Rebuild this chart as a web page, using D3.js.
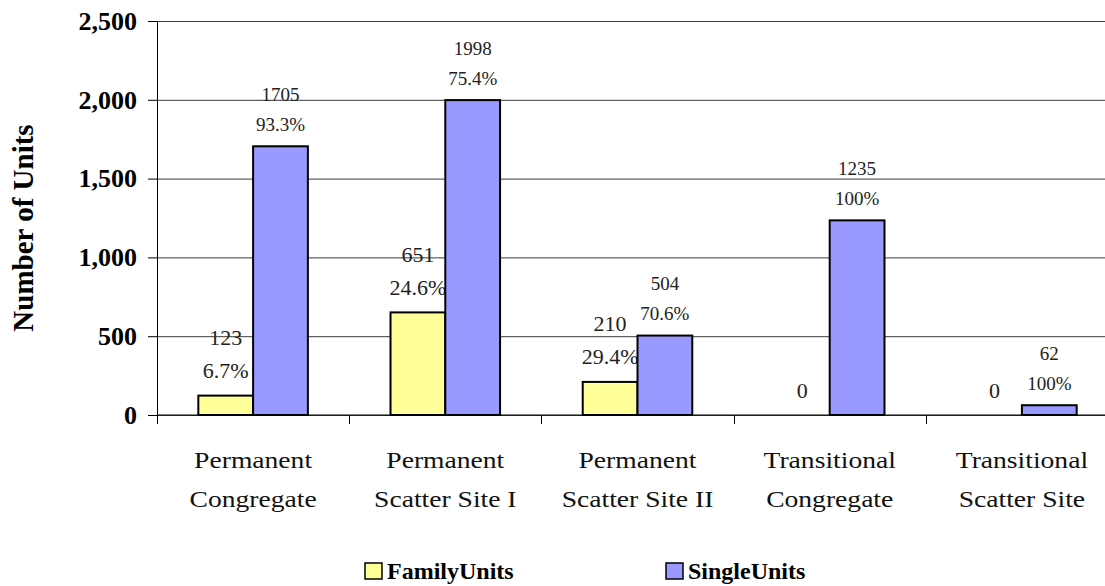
<!DOCTYPE html>
<html>
<head>
<meta charset="utf-8">
<script src="https://cdn.jsdelivr.net/npm/d3@7"></script>
<style>
  html, body { margin: 0; padding: 0; background: #fff; }
  svg { display: block; }
  svg text { font-family: "Liberation Serif", "Times New Roman", serif !important; }
</style>
</head>
<body>
<div id="chart"></div>
<script>
// values
const categories = [
  "Permanent Congregate",
  "Permanent Scatter Site I",
  "Permanent Scatter Site II",
  "Transitional Congregate",
  "Transitional Scatter Site"
];
const familyUnits = [123, 651, 210, 0, 0];
const singleUnits = [1705, 1998, 504, 1235, 62];
const seriesNames = ["FamilyUnits", "SingleUnits"];
const yTicks = [0, 500, 1000, 1500, 2000, 2500];

const width = 1105, height = 586;
const colors = ["#FFFF99", "#9999FF"];

const rows = categories.map((c, i) => {
  const f = familyUnits[i], s = singleUnits[i], tot = f + s;
  return { cat: c, values: [f, s], pct: [f / tot * 100, s / tot * 100] };
});

function pctText(p) {
  return p === 100 ? "100%" : p.toFixed(1) + "%";
}

const svg = d3.select("#chart").append("svg")
  .attr("width", width)
  .attr("height", height);

// plot runs a little past the right edge, like the original
const x = d3.scaleBand()
  .domain(categories)
  .range([157, 1118])
  .paddingInner(0.43)
  .paddingOuter(0.215);

const x1 = d3.scaleBand()
  .domain([0, 1])
  .range([0, x.bandwidth()]);

const y = d3.scaleLinear()
  .domain([0, 2500])
  .range([415, 21]);

// gridlines
svg.append("g")
  .attr("transform", "translate(157,0)")
  .call(d3.axisLeft(y).tickValues(yTicks).tickSize(-(width - 157)).tickFormat(""))
  .call(g => g.select(".domain").remove())
  .call(g => g.selectAll(".tick line").attr("stroke", "#3a3a3a").attr("stroke-width", 1));

// y axis
svg.append("g")
  .attr("transform", "translate(157,0)")
  .call(d3.axisLeft(y).tickValues(yTicks).tickSize(9).tickPadding(11).tickFormat(d3.format(",")))
  .attr("font-family", null)
  .attr("font-size", null)
  .call(g => g.select(".domain").attr("stroke", "#000"))
  .call(g => g.selectAll(".tick line").attr("stroke", "#000"))
  .call(g => g.selectAll(".tick text")
    .attr("font-weight", "bold")
    .attr("font-size", 26)
    .attr("fill", "#000"));

// x axis line + boundary ticks
const bounds = categories.map(c => x(c) - x.step() * x.paddingInner() / 2);
svg.append("line")
  .attr("x1", 157).attr("x2", width)
  .attr("y1", y(0)).attr("y2", y(0))
  .attr("stroke", "#000");
svg.append("g").selectAll("line")
  .data(bounds)
  .join("line")
  .attr("x1", d => Math.round(d) + 0.5).attr("x2", d => Math.round(d) + 0.5)
  .attr("y1", y(0)).attr("y2", y(0) + 9)
  .attr("stroke", "#000");

// category labels (two lines each)
const catG = svg.append("g").selectAll("g")
  .data(categories)
  .join("g")
  .attr("transform", d => `translate(${x(d) + x.bandwidth() / 2},0)`);
catG.each(function (d) {
  const k = d.indexOf(" ");
  const lines = [d.slice(0, k), d.slice(k + 1)];
  d3.select(this).selectAll("text")
    .data(lines)
    .join("text")
    .attr("transform", (l, j) => `translate(0,${468 + j * 39}) scale(1.2,1)`)
    .attr("text-anchor", "middle")
    .attr("font-size", 23)
    .attr("fill", "#111")
    .text(l => l);
});

// bars and labels, series by series so single bars sit over family labels
const fontSizes = [22, 19];
const lift = [[58, 25], [52, 22]];
[0, 1].forEach(si => {
  const g = svg.append("g");
  g.selectAll("rect")
    .data(rows.filter(r => r.values[si] > 0))
    .join("rect")
    .attr("x", r => x(r.cat) + x1(si))
    .attr("y", r => y(r.values[si]))
    .attr("width", x1.bandwidth())
    .attr("height", r => y(0) - y(r.values[si]))
    .attr("fill", colors[si])
    .attr("stroke", "#000")
    .attr("stroke-width", 2);

  const lab = g.selectAll("g.lab")
    .data(rows)
    .join("g")
    .attr("class", "lab")
    .attr("transform", r => `translate(${x(r.cat) + x1(si) + x1.bandwidth() / 2},${y(r.values[si])})`);

  lab.each(function (r) {
    const sel = d3.select(this);
    const lines = r.values[si] === 0
      ? [["0", lift[si][1]]]
      : [[String(r.values[si]), lift[si][0]], [pctText(r.pct[si]), lift[si][1]]];
    lines.forEach(([t, dy]) => {
      sel.append("text")
        .attr("y", -dy)
        .attr("text-anchor", "middle")
        .attr("dominant-baseline", "central")
        .attr("font-size", fontSizes[si])
        .attr("fill", "#222")
        .text(t);
    });
  });
});

// y title
svg.append("text")
  .attr("transform", "translate(33,228) rotate(-90)")
  .attr("text-anchor", "middle")
  .attr("font-weight", "bold")
  .attr("font-size", 29)
  .attr("fill", "#000")
  .text("Number of Units");

// legend
const legX = [365, 666];
const leg = svg.append("g").selectAll("g")
  .data(seriesNames)
  .join("g")
  .attr("transform", (d, i) => `translate(${legX[i]},563)`);
leg.append("rect")
  .attr("width", 17).attr("height", 16)
  .attr("fill", (d, i) => colors[i])
  .attr("stroke", "#000")
  .attr("stroke-width", 1.5);
leg.append("text")
  .attr("x", 22).attr("y", 16)
  .attr("font-weight", "bold")
  .attr("font-size", 24)
  .attr("fill", "#000")
  .text(d => d);
</script>
</body>
</html>
